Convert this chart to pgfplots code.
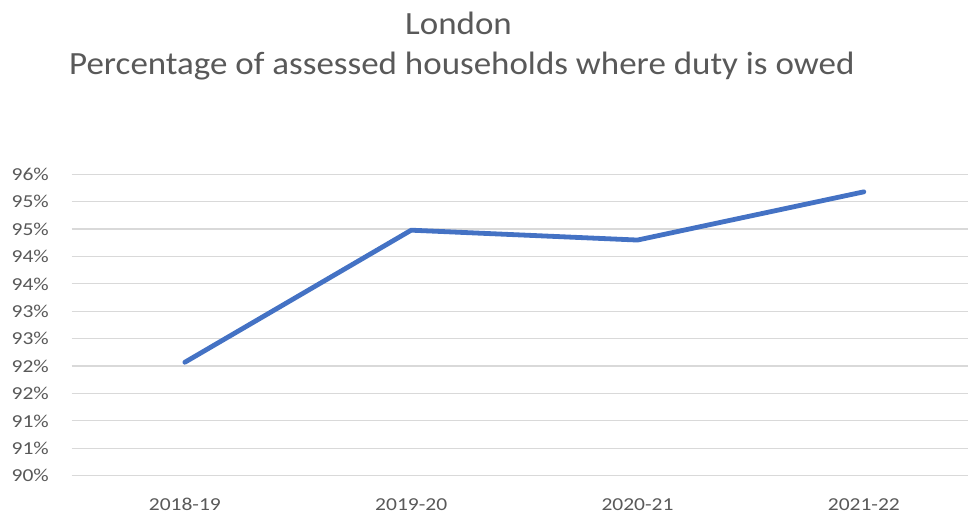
\documentclass[border=0pt]{standalone}
\usepackage{pgfplots}
\pgfplotsset{compat=1.18}
\usepackage{fontspec}
\setmainfont{Carlito}
\newfontfamily\tickfont[FakeStretch=1.18]{Carlito}
\newfontfamily\titlefont[FakeStretch=1.08]{Carlito}
\definecolor{linec}{HTML}{4472C4}
\definecolor{gridc}{HTML}{D9D9D9}
\definecolor{textc}{HTML}{595959}
\begin{document}
\begin{tikzpicture}[x=1bp,y=1bp]
\path[use as bounding box] (0,0) rectangle (968,515);
\clip (0,0) rectangle (968,515);
\begin{axis}[
  at={(71.7bp,39.3bp)}, anchor=south west,
  width=905.3bp, height=301.4bp, scale only axis,
  xmin=-0.5, xmax=3.5, ymin=90, ymax=95.5,
  xtick={0,1,2,3},
  xticklabels={2018-19,2019-20,2020-21,2021-22},
  ytick={90,90.5,91,91.5,92,92.5,93,93.5,94,94.5,95,95.5},
  yticklabels={90\%,91\%,91\%,92\%,92\%,93\%,93\%,94\%,94\%,95\%,95\%,96\%},
  axis line style={draw=none},
  major tick length=0pt,
  ymajorgrids,
  grid style={gridc, line width=1.2bp},
  tick label style={font=\tickfont\fontsize{18.3}{22}\selectfont, text=textc, inner sep=0pt},
  yticklabel style={anchor=east, xshift=-22.7bp},
  xticklabel style={anchor=north, yshift=-22.6bp},
  /pgf/number format/assume math mode=true,
  clip=false,
]
\addplot[linec, line width=4.8bp, line cap=round, line join=round, mark=none]
  coordinates {(0,92.07) (1,94.48) (2,94.30) (3,95.18)};
\end{axis}
\node[anchor=base west, text=textc, inner sep=0pt, font=\titlefont\fontsize{32.5}{38}\selectfont] at (405,480.7) {London};
\node[anchor=base west, text=textc, inner sep=0pt, font=\titlefont\fontsize{32.5}{38}\selectfont] at (69,440) {Percentage of assessed households where duty is owed};
\end{tikzpicture}
\end{document}
